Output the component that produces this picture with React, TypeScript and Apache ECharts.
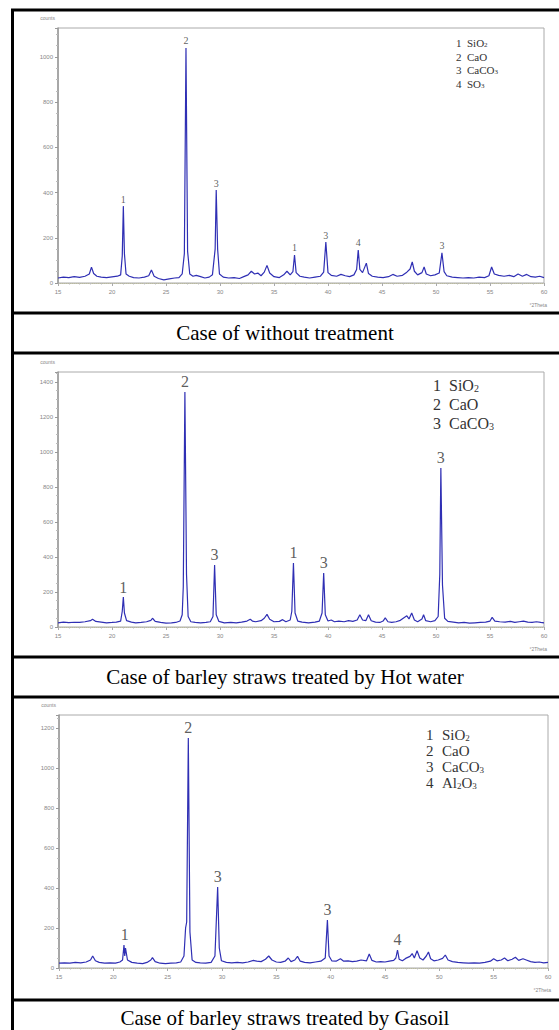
import React, { useEffect, useRef } from "react";
import * as echarts from "echarts";

// 2θ (degrees) and intensity (counts) points
const patternRaw: number[][] = [
  [15.0,22],[15.5,26],[16.0,24],[16.5,28],[17.0,25],[17.5,30],[17.9,40],[18.1,70],[18.3,42],[18.6,30],[19.0,26],[19.5,24],[20.0,27],[20.5,30],[20.8,36],[20.95,120],[21.05,340],[21.15,130],[21.3,40],[21.6,30],[22.0,24],[22.5,22],[23.0,26],[23.4,32],[23.65,58],[23.9,30],[24.3,20],[24.8,14],[25.3,18],[25.8,22],[26.2,24],[26.5,40],[26.7,130],[26.85,1040],[27.0,140],[27.2,40],[27.5,30],[27.8,34],[28.2,28],[28.6,22],[29.0,26],[29.3,36],[29.55,150],[29.65,411],[29.78,150],[29.95,40],[30.3,26],[30.8,22],[31.3,24],[31.8,20],[32.2,28],[32.6,36],[32.9,52],[33.2,40],[33.5,44],[33.8,32],[34.1,48],[34.35,78],[34.6,44],[35.0,28],[35.5,24],[35.9,36],[36.2,52],[36.5,36],[36.75,50],[36.9,124],[37.05,46],[37.4,30],[37.8,26],[38.3,22],[38.8,26],[39.3,30],[39.6,48],[39.8,181],[40.0,46],[40.3,34],[40.8,30],[41.2,38],[41.6,32],[42.0,28],[42.4,36],[42.65,60],[42.8,146],[42.95,60],[43.2,46],[43.55,88],[43.75,42],[44.1,30],[44.6,26],[45.1,24],[45.6,28],[46.0,38],[46.4,30],[46.9,34],[47.3,48],[47.6,62],[47.8,93],[48.0,52],[48.3,36],[48.7,46],[48.9,71],[49.1,40],[49.5,32],[49.9,36],[50.3,44],[50.55,133],[50.75,50],[51.0,32],[51.5,26],[52.0,24],[52.5,22],[53.0,24],[53.5,22],[54.0,26],[54.5,24],[54.9,32],[55.15,71],[55.4,40],[55.8,34],[56.3,30],[56.8,34],[57.2,28],[57.6,40],[58.0,30],[58.4,38],[58.8,28],[59.2,26],[59.6,30],[60.0,24]
];
const patternHotWater: number[][] = [
  [15.0,24],[15.5,28],[16.0,25],[16.5,27],[17.0,26],[17.5,30],[18.0,36],[18.2,44],[18.5,32],[19.0,28],[19.5,24],[20.0,26],[20.4,28],[20.8,34],[20.95,90],[21.05,171],[21.15,80],[21.35,36],[21.8,28],[22.2,24],[22.7,26],[23.2,30],[23.6,38],[23.75,50],[24.0,32],[24.5,26],[25.0,22],[25.5,24],[25.9,26],[26.3,34],[26.5,70],[26.6,230],[26.75,1343],[26.9,300],[27.05,60],[27.3,30],[27.7,26],[28.2,24],[28.7,26],[29.1,30],[29.35,60],[29.5,354],[29.65,70],[29.9,32],[30.4,24],[31.0,26],[31.5,24],[32.0,28],[32.5,34],[32.8,44],[33.0,34],[33.3,30],[33.8,36],[34.1,50],[34.35,72],[34.6,44],[35.0,30],[35.5,32],[35.8,42],[36.1,30],[36.5,40],[36.65,90],[36.8,366],[36.95,80],[37.2,34],[37.6,28],[38.2,24],[38.8,28],[39.2,34],[39.45,80],[39.6,309],[39.75,70],[40.0,34],[40.3,40],[40.6,30],[41.0,34],[41.5,30],[41.9,36],[42.3,32],[42.7,40],[42.95,70],[43.2,40],[43.5,36],[43.75,70],[44.0,36],[44.4,28],[44.8,26],[45.1,34],[45.3,52],[45.55,30],[45.9,26],[46.3,30],[46.7,38],[47.0,52],[47.3,64],[47.5,46],[47.75,80],[48.0,40],[48.3,30],[48.7,46],[48.85,70],[49.05,36],[49.5,30],[49.9,36],[50.2,60],[50.35,300],[50.45,909],[50.6,240],[50.8,50],[51.1,32],[51.6,28],[52.1,24],[52.6,26],[53.1,22],[53.6,24],[54.1,26],[54.6,28],[55.0,34],[55.2,55],[55.45,34],[55.9,30],[56.4,28],[56.9,32],[57.3,26],[57.7,30],[58.1,34],[58.5,28],[58.9,26],[59.3,30],[59.7,26],[60.0,24]
];
const patternGasoil: number[][] = [
  [15.0,24],[15.5,26],[16.0,24],[16.5,28],[17.0,26],[17.5,30],[17.9,40],[18.1,60],[18.35,36],[18.7,28],[19.2,24],[19.7,26],[20.2,24],[20.6,30],[20.85,40],[20.98,115],[21.05,60],[21.12,100],[21.3,40],[21.7,28],[22.2,24],[22.7,22],[23.1,28],[23.45,40],[23.6,52],[23.85,32],[24.3,24],[24.8,22],[25.3,24],[25.8,26],[26.2,30],[26.5,60],[26.65,200],[26.75,230],[26.9,1150],[27.05,180],[27.25,40],[27.6,28],[28.0,26],[28.5,24],[29.0,28],[29.35,60],[29.6,405],[29.75,100],[29.95,36],[30.4,28],[30.9,26],[31.4,28],[31.9,26],[32.4,30],[32.9,38],[33.2,34],[33.6,32],[34.0,44],[34.3,60],[34.6,40],[35.0,30],[35.4,28],[35.8,34],[36.1,50],[36.35,32],[36.7,40],[36.95,58],[37.2,34],[37.6,28],[38.1,26],[38.6,30],[39.1,34],[39.5,50],[39.7,240],[39.85,60],[40.1,36],[40.5,34],[40.9,46],[41.2,34],[41.6,36],[42.0,32],[42.4,34],[42.8,40],[43.3,36],[43.55,70],[43.8,38],[44.2,30],[44.6,32],[45.0,30],[45.4,34],[45.8,38],[46.0,50],[46.15,90],[46.3,44],[46.6,36],[46.9,48],[47.3,58],[47.5,72],[47.7,50],[47.95,86],[48.2,50],[48.5,40],[48.8,60],[49.0,80],[49.2,46],[49.5,36],[49.9,40],[50.3,48],[50.55,65],[50.8,40],[51.2,32],[51.7,28],[52.2,26],[52.7,24],[53.2,26],[53.7,24],[54.2,28],[54.7,34],[55.0,46],[55.3,36],[55.7,40],[56.0,50],[56.3,36],[56.7,44],[57.0,54],[57.3,38],[57.7,46],[58.0,40],[58.4,32],[58.8,28],[59.2,30],[59.6,26],[60.0,28]
];

// peak markers: [2θ, counts, phase number]
const peaksRaw: (number | string)[][] = [[21.05,340,"1"],[26.85,1040,"2"],[29.65,411,"3"],[36.9,124,"1"],[39.8,181,"3"],[42.8,146,"4"],[50.55,133,"3"]];
const peaksHotWater: (number | string)[][] = [[21.05,171,"1"],[26.75,1343,"2"],[29.5,354,"3"],[36.8,366,"1"],[39.6,309,"3"],[50.45,909,"3"]];
const peaksGasoil: (number | string)[][] = [[21.05,115,"1"],[26.9,1150,"2"],[29.6,405,"3"],[39.7,240,"3"],[46.15,90,"4"]];

// legends: [number, formula pieces (text, subscript, text, subscript)]
const legendRaw = [["1","SiO","2"],["2","CaO"],["3","CaCO","3"],["4","SO","3"]];
const legendHotWater = [["1","SiO","2"],["2","CaO"],["3","CaCO","3"]];
const legendGasoil = [["1","SiO","2"],["2","CaO"],["3","CaCO","3"],["4","Al","2","O","3"]];

const captions = ["Case of without treatment", "Case of barley straws treated by Hot water", "Case of barley straws treated by Gasoil"];
const xTicks = { min: 15, max: 60, interval: 5 };
const yMaxes = [1128, 1457, 1265];

const SERIF = "'Liberation Serif', 'DejaVu Serif', serif";

export default function App() {
  const ref = useRef<HTMLDivElement>(null);
  useEffect(() => {
    if (!ref.current) return;
    const chart = echarts.init(ref.current, null, { renderer: "svg" });
    const grids = [
      { left: 58, top: 28, width: 486, height: 255 },
      { left: 58, top: 372, width: 486, height: 255 },
      { left: 59, top: 715, width: 489, height: 253 },
    ];
    const patterns = [patternRaw, patternHotWater, patternGasoil];
    const peaks = [peaksRaw, peaksHotWater, peaksGasoil];
    const peakFont = [10, 16, 16];
    const legends = [legendRaw, legendHotWater, legendGasoil];
    const legendPos = [
      { x: 456, dx: 11, y: 43, step: 13.5, size: 11 },
      { x: 433, dx: 16, y: 385, step: 19, size: 16 },
      { x: 426, dx: 16, y: 735, step: 16, size: 15 },
    ];
    const captionY = [333, 677, 1018];
    const captionX = [285, 285, 285];

    const graphic: any[] = [];
    const hLines = [10, 313, 353, 657, 697, 1000];
    hLines.forEach((y) =>
      graphic.push({ type: "line", shape: { x1: 11, y1: y, x2: 559, y2: y }, style: { stroke: "#000", lineWidth: 3 } })
    );
    graphic.push({ type: "line", shape: { x1: 12.5, y1: 9, x2: 12.5, y2: 1030 }, style: { stroke: "#000", lineWidth: 3 } });

    captions.forEach((c, i) =>
      graphic.push({
        type: "text", x: captionX[i], y: captionY[i],
        style: { text: c, font: `21px ${SERIF}`, fill: "#000", textAlign: "center", textVerticalAlign: "middle" },
      })
    );

    grids.forEach((g, i) => {
      graphic.push({
        type: "text", x: g.left - 3, y: g.top - 10,
        style: { text: "counts", font: `5px sans-serif`, fill: "#888", textAlign: "right", textVerticalAlign: "middle" },
      });
      graphic.push({
        type: "text", x: g.left + g.width + 3, y: g.top + g.height + 22,
        style: { text: "°2Theta", font: `5px sans-serif`, fill: "#888", textAlign: "right", textVerticalAlign: "middle" },
      });
      const lp = legendPos[i];
      legends[i].forEach((row, k) => {
        graphic.push({
          type: "text", x: lp.x, y: lp.y + k * lp.step,
          style: { text: row[0], font: `${lp.size}px ${SERIF}`, fill: "#333", textVerticalAlign: "middle" },
        });
        let text = `{f|${row[1]}}`;
        for (let j = 2; j < row.length; j++) {
          text += j % 2 === 0 ? `{s|${row[j]}}` : `{f|${row[j]}}`;
        }
        graphic.push({
          type: "text", x: lp.x + lp.dx, y: lp.y + k * lp.step,
          style: {
            text, textVerticalAlign: "middle",
            rich: {
              f: { font: `${lp.size}px ${SERIF}`, fill: "#333" },
              s: { font: `${Math.round(lp.size * 0.6)}px ${SERIF}`, fill: "#333", padding: [Math.round(lp.size * 0.4), 0, 0, 0] },
            },
          },
        });
      });
    });

    const option: any = {
      animation: false,
      grid: grids.map((g) => ({ ...g, show: true, borderColor: "#aaa", borderWidth: 1, backgroundColor: "transparent" })),
      xAxis: grids.map((_, i) => ({
        type: "value", gridIndex: i, min: xTicks.min, max: xTicks.max, interval: xTicks.interval,
        axisLine: { show: true, onZero: false, lineStyle: { color: "#b8b8a0", type: "dotted", width: 1 } },
        axisTick: { show: true, length: 3, lineStyle: { color: "#aaa" } },
        minorTick: { show: true, splitNumber: 5, length: 1.5, lineStyle: { color: "#bbb" } },
        axisLabel: { fontSize: 6, color: "#888", margin: 6 },
        splitLine: { show: false },
      })),
      yAxis: grids.map((_, i) => ({
        type: "value", gridIndex: i, min: 0, max: yMaxes[i], interval: 200,
        axisLine: { show: true, lineStyle: { color: "#999", width: 1.5 } },
        axisTick: { show: true, length: 3, lineStyle: { color: "#999" } },
        minorTick: { show: true, splitNumber: 4, length: 2, lineStyle: { color: "#bbb" } },
        axisLabel: { fontSize: 6, color: "#888", margin: 5, showMaxLabel: false, formatter: (v: number) => String(v) },
        splitLine: { show: false },
      })),
      series: [
        ...patterns.map((p, i) => ({
          type: "line", xAxisIndex: i, yAxisIndex: i, data: p, showSymbol: false, symbol: "none",
          lineStyle: { color: "#2f2fb4", width: 1.2 }, z: 3,
        })),
        ...peaks.map((pk, i) => ({
          type: "scatter", xAxisIndex: i, yAxisIndex: i, symbolSize: 0.1, z: 4,
          itemStyle: { color: "transparent" },
          data: pk.map((p) => ({ name: p[2], value: [p[0], p[1]] })),
          label: { show: true, position: "top", distance: 2, formatter: "{b}", fontFamily: SERIF, fontSize: peakFont[i], color: "#333" },
        })),
      ],
      graphic,
    };
    chart.setOption(option);
    return () => chart.dispose();
  }, []);
  return <div ref={ref} style={{ position: "absolute", left: 0, top: 0, width: 559, height: 1030, background: "#fff" }} />;
}
